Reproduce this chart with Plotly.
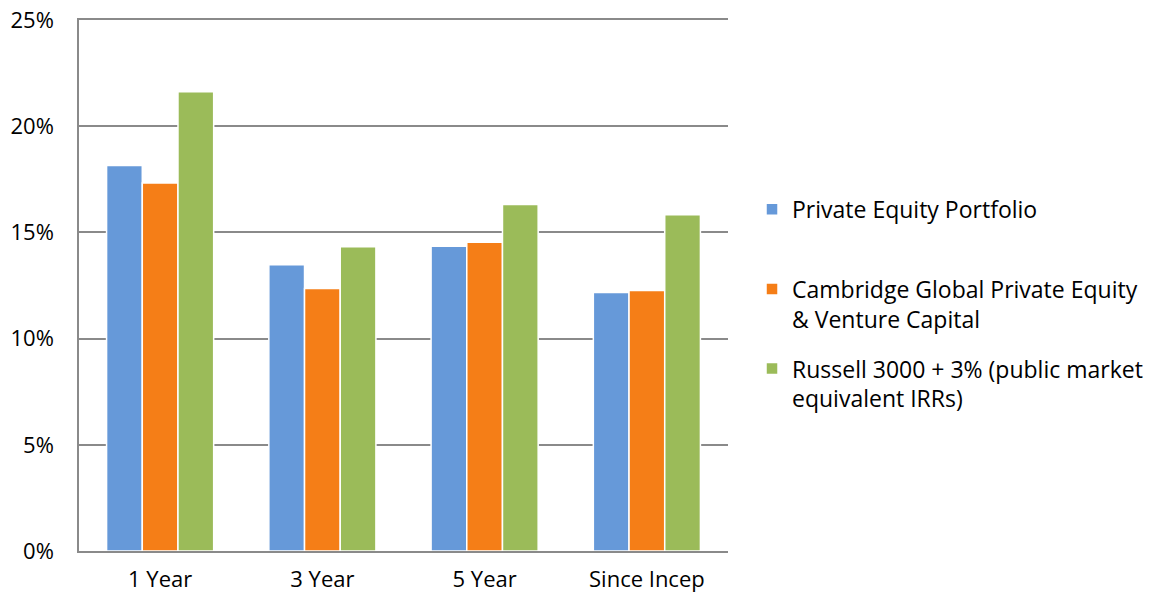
import plotly.graph_objects as go

categories = ["1 Year", "3 Year", "5 Year", "Since Incep"]
series_names = [
    "Private Equity Portfolio",
    "Cambridge Global Private Equity<br>& Venture Capital",
    "Russell 3000 + 3% (public market<br>equivalent IRRs)",
]
private_equity = [18.15, 13.48, 14.35, 12.17]
cambridge = [17.33, 12.36, 14.54, 12.26]
russell = [21.62, 14.33, 16.31, 15.83]
colors = ["#6699D9", "#F57E17", "#9BBB59"]
y_ticks = [0, 5, 10, 15, 20, 25]
y_tick_labels = ["0%", "5%", "10%", "15%", "20%", "25%"]

FONT = "Open Sans"
TXT = "#000000"
GRID = "#8A8A8A"

fig = go.Figure()
legend_ids = ["legend", "legend2", "legend3"]
for name, vals, col, lg in zip(series_names, [private_equity, cambridge, russell], colors, legend_ids):
    fig.add_trace(go.Bar(
        x=categories, y=vals, name=name,
        marker=dict(color=col, line=dict(color="white", width=1.5)),
        legend=lg,
    ))

legend_common = dict(
    font=dict(family=FONT, size=23, color=TXT),
    bgcolor="rgba(0,0,0,0)",
    xanchor="left", yanchor="top", valign="top",
    itemwidth=30, tracegroupgap=0,
)

# page body has an 8px default margin, so the figure is sized 8px smaller
fig.update_layout(
    width=1145, height=586,
    margin=dict(l=71, r=425, t=12, b=43, autoexpand=False),
    paper_bgcolor="white", plot_bgcolor="white",
    barmode="group", bargap=0.34, bargroupgap=0.0,
    font=dict(family=FONT, size=22, color=TXT),
    showlegend=True,
    legend=dict(x=1.037, y=0.684, **legend_common),
    legend2=dict(x=1.037, y=0.534, **legend_common),
    legend3=dict(x=1.037, y=0.384, **legend_common),
    xaxis=dict(
        showline=True, mirror=True, linecolor=GRID, linewidth=1.5, automargin=False,
        showgrid=False, ticks="", ticklabelstandoff=8,
        ticklabeloverflow="allow",
        tickfont=dict(family=FONT, size=22, color=TXT),
    ),
    yaxis=dict(
        range=[0, 25], tickvals=y_ticks, ticktext=y_tick_labels, automargin=False,
        showline=True, linecolor=GRID, linewidth=1.5,
        showgrid=True, gridcolor=GRID, gridwidth=1.5,
        zeroline=False, ticks="", ticklabelstandoff=19,
        ticklabeloverflow="allow",
        tickfont=dict(family=FONT, size=22, color=TXT),
    ),
)

fig.write_html("out.html")
